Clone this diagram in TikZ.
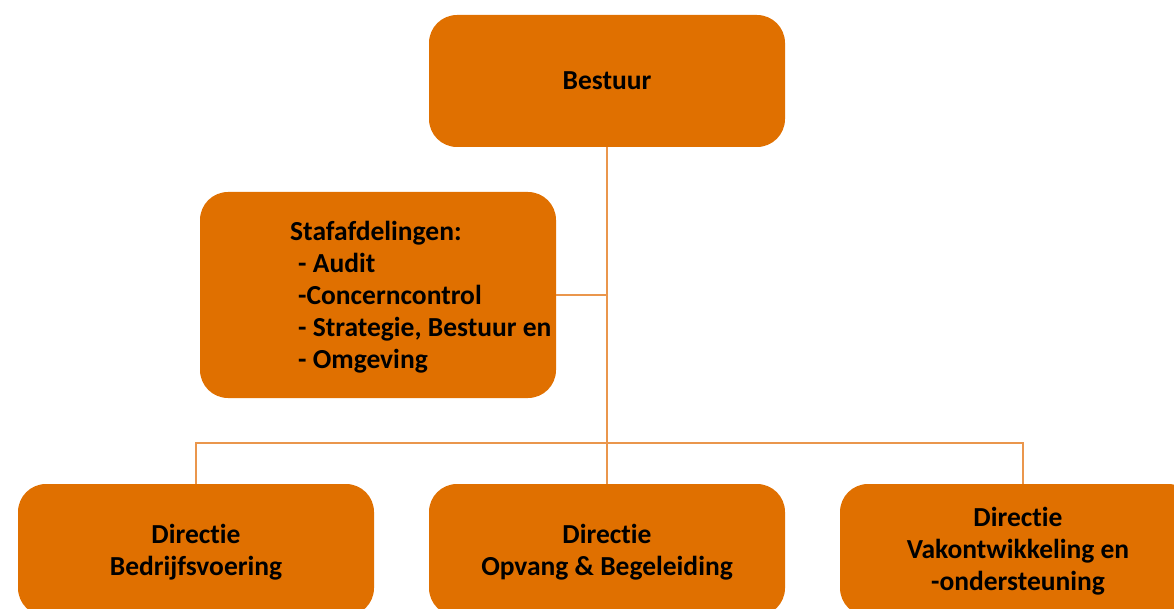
\documentclass[tikz,border=0pt]{standalone}
\usepackage{fontspec}
\setmainfont{Carlito}[Ligatures=NoCommon]
\definecolor{boxorange}{RGB}{224,112,0}
\definecolor{lineorange}{RGB}{234,150,76}
\begin{document}
\begin{tikzpicture}[x=1pt,y=-1pt,
  box/.style={fill=boxorange, draw=none, rounded corners=28pt, minimum width=356pt, minimum height=132pt, inner sep=0pt, align=center, font=\fontsize{27.5}{31.5}\selectfont\bfseries},
  txt/.style={inner sep=0pt, align=left, font=\fontsize{27.5}{32}\selectfont\bfseries},
  conn/.style={draw=lineorange, line width=1.4pt}]
\useasboundingbox (0,0) rectangle (1174,609);
\clip (0,0) rectangle (1174,609);
\node[box] (bestuur) at (607,81) {Bestuur};
\node[box, minimum height=206pt] (staf) at (378,295) {};
\node[txt, anchor=west] (staftext) at (290,297) {Stafafdelingen:\\\hspace*{8pt}- Audit\\\hspace*{8pt}-Concerncontrol\\\hspace*{8pt}- Strategie, Bestuur en\\\hspace*{8pt}- Omgeving};
\node[box] (left) at (196,550) {};
\node[box] (middle) at (607,550) {};
\node[box] (right) at (1018,550) {};
\node[txt, align=center] (lefttext) at (196,552) {Directie\\Bedrijfsvoering};
\node[txt, align=center] (midtext) at (607,552) {Directie\\Opvang \& Begeleiding};
\node[txt, align=center] (righttext) at (1018,551.5) {Directie\\Vakontwikkeling en\\-ondersteuning};
\coordinate (bus) at (0,443);
\coordinate (rtop) at ([xshift=5pt]right.north);
\begin{scope}[on background layer/.try]
\draw[conn] (bestuur.south) -- (middle.north);
\draw[conn] (staf.east) -- (staf.east -| bestuur.south);
\draw[conn] (left.north) -- (left.north |- bus) -- (rtop |- bus) -- (rtop);
\end{scope}
\end{tikzpicture}
\end{document}
